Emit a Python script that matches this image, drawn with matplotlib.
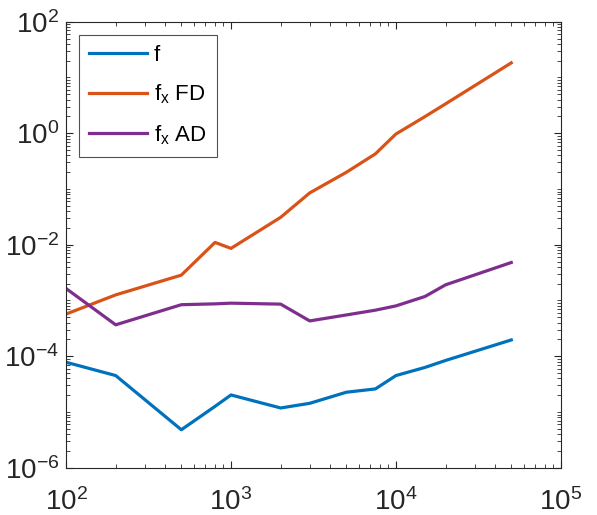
import numpy as np
import matplotlib
matplotlib.use("Agg")
import matplotlib.pyplot as plt
from matplotlib.ticker import LogLocator, FixedLocator, NullFormatter

plt.rcParams['font.family'] = ['Liberation Sans', 'DejaVu Sans']
plt.rcParams['mathtext.fontset'] = 'custom'
plt.rcParams['mathtext.rm'] = 'Liberation Sans'
plt.rcParams['mathtext.it'] = 'Liberation Sans'
plt.rcParams['mathtext.default'] = 'regular'

n = [100, 200, 500, 800, 1000, 2000, 3000, 5000, 7500, 10000, 15000, 20000, 50000]
f_err = [7.8e-5, 4.5e-5, 4.8e-6, 1.26e-5, 2.02e-5, 1.18e-5, 1.43e-5, 2.26e-5, 2.59e-5, 4.5e-5, 6.3e-5, 8.4e-5, 1.96e-4]
fx_fd = [5.7e-4, 1.26e-3, 2.85e-3, 1.1e-2, 8.6e-3, 3.1e-2, 8.5e-2, 0.199, 0.426, 0.97, 1.99, 3.37, 18.3]
fx_ad = [1.64e-3, 3.66e-4, 8.4e-4, 8.7e-4, 8.95e-4, 8.6e-4, 4.3e-4, 5.5e-4, 6.7e-4, 8.0e-4, 1.18e-3, 1.91e-3, 4.8e-3]
labels = ['f', r'$f_{x}$ FD', r'$f_{x}$ AD']
colors = ['#0072BD', '#D95319', '#7E2F8E']
xticks = [1e2, 1e3, 1e4, 1e5]
xticklabels = [r'$10^{2}$', r'$10^{3}$', r'$10^{4}$', r'$10^{5}$']
yticks = [1e-6, 1e-4, 1e-2, 1e0, 1e2]
yticklabels = [r'$10^{-6}$', r'$10^{-4}$', r'$10^{-2}$', r'$10^{0}$', r'$10^{2}$']

fig = plt.figure(figsize=(5.97, 5.15), dpi=100)
ax = fig.add_axes([0.1106, 0.0918, 0.829, 0.866])
for y, lab, c in zip([f_err, fx_fd, fx_ad], labels, colors):
    ax.plot(n, y, color=c, lw=2.3, label=lab)

ax.set_xscale('log')
ax.set_yscale('log')
ax.set_xlim(1e2, 1e5)
ax.set_ylim(1e-6, 1e2)
ax.xaxis.set_major_locator(FixedLocator(xticks))
ax.set_xticklabels(xticklabels)
ax.xaxis.set_minor_locator(LogLocator(base=10, subs=np.arange(2, 10), numticks=20))
ax.xaxis.set_minor_formatter(NullFormatter())
ax.yaxis.set_major_locator(FixedLocator(yticks))
ax.set_yticklabels(yticklabels)
ax.yaxis.set_minor_locator(LogLocator(base=10, subs=np.arange(1, 10), numticks=30))
ax.yaxis.set_minor_formatter(NullFormatter())

ax.tick_params(which='both', direction='in', top=True, right=True, colors='#262626', labelcolor='#262626', labelsize=20)
ax.tick_params(which='major', length=5, width=0.8)
ax.tick_params(axis='x', which='major', pad=15)
ax.tick_params(axis='y', which='major', pad=5)
ax.tick_params(which='minor', length=3, width=0.6)
for s in ax.spines.values():
    s.set_color('#262626')
    s.set_linewidth(0.8)

leg = ax.legend(loc='upper left', fontsize=16, frameon=True, fancybox=False,
                edgecolor='#262626', handlelength=2.6, handletextpad=0.3,
                borderaxespad=0.6, labelspacing=0.75, borderpad=0.45)
leg.get_frame().set_linewidth(0.8)

fig.savefig('out.png', dpi=100)
